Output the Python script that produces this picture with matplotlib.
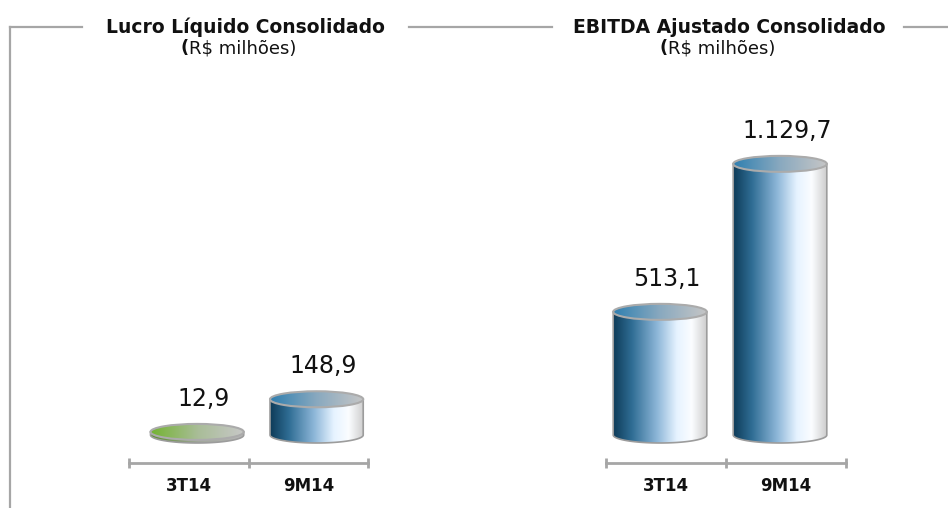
import numpy as np
import matplotlib
matplotlib.use("Agg")
import matplotlib.pyplot as plt
from matplotlib.patches import Ellipse, Polygon
from matplotlib.colors import LinearSegmentedColormap
from matplotlib.lines import Line2D

# data
categories = ["3T14", "9M14"]
lucro_values = [12.9, 148.9]
ebitda_values = [513.1, 1129.7]
lucro_labels = ["12,9", "148,9"]
ebitda_labels = ["513,1", "1.129,7"]
titles = ["Lucro Líquido Consolidado", "EBITDA Ajustado Consolidado"]
unit_text = "R$ milhões)"

W, H, DPI = 948, 508, 100
GRAY = "#a6a6a6"
PX_PER_UNIT = 0.24      # vertical scale shared by both charts
ELL_PX = 8              # half height of the cylinder ellipses, pixels
BAR_W = 0.78

plt.rcParams['font.family'] = ['DejaVu Sans']

blue_body = LinearSegmentedColormap.from_list("blue_body", [
    (0.0, "#0e3b58"), (0.2, "#2f6d94"), (0.47, "#8db6d8"),
    (0.68, "#e6f3ff"), (0.84, "#fbfdff"), (1.0, "#cdcdcd")])
blue_top = LinearSegmentedColormap.from_list("blue_top", [
    (0.0, "#2f7fb0"), (0.5, "#89a9bf"), (1.0, "#c6c6c6")])
green_body = LinearSegmentedColormap.from_list("green_body", [
    (0.0, "#5b8f2b"), (0.5, "#a0a69a"), (1.0, "#b8b8b8")])
green_top = LinearSegmentedColormap.from_list("green_top", [
    (0.0, "#74b332"), (0.5, "#a9bd98"), (1.0, "#c8c8c8")])


def fig_box(x0, x1, y0, y1):
    return [x0 / W, (H - y1) / H, (x1 - x0) / W, (y1 - y0) / H]


def cylinder(ax, cx, h, body_cmap, top_cmap):
    a = BAR_W / 2
    b = ELL_PX / PX_PER_UNIT
    grad = np.linspace(0, 1, 256).reshape(1, -1)
    theta = np.linspace(np.pi, 2 * np.pi, 80)
    verts = [(cx - a, h)] + list(zip(cx + a * np.cos(theta), b * np.sin(theta))) + [(cx + a, h)]
    body = Polygon(verts, closed=True, transform=ax.transData)
    im = ax.imshow(grad, cmap=body_cmap, extent=(cx - a, cx + a, -b, h),
                   aspect='auto', zorder=2, interpolation='bilinear')
    im.set_clip_path(body)
    ax.add_patch(Polygon(verts, closed=True, fill=False, edgecolor="#9c9c9c", lw=1.2, zorder=3))
    top = Ellipse((cx, h), 2 * a, 2 * b, transform=ax.transData)
    im2 = ax.imshow(grad, cmap=top_cmap, extent=(cx - a, cx + a, h - b, h + b),
                    aspect='auto', zorder=4, interpolation='bilinear')
    im2.set_clip_path(top)
    ax.add_patch(Ellipse((cx, h), 2 * a, 2 * b, fill=False, edgecolor="#ababab", lw=1.5, zorder=5))


def panel(ax, values, labels, cmaps, shift):
    ax.set_autoscale_on(False)
    height_px = ax.bbox.height
    bottom = -28 / PX_PER_UNIT
    ax.set_xlim(-0.5, 1.5)
    ax.set_ylim(bottom, bottom + height_px / PX_PER_UNIT)
    x = np.arange(len(values))
    for i, (v, lab) in enumerate(zip(values, labels)):
        cx = x[i] + shift
        cylinder(ax, cx, v, *cmaps[i])
        ax.annotate(lab, (cx, v), xytext=(5, 24), textcoords='offset points',
                    ha='center', va='center', fontsize=17, color="#111111")
    for s in ['left', 'right', 'top']:
        ax.spines[s].set_visible(False)
    ax.spines['bottom'].set_color(GRAY)
    ax.spines['bottom'].set_linewidth(2)
    ax.set_yticks([])
    ax.set_xticks([-0.5, 0.5, 1.5])
    ax.set_xticklabels([])
    ax.tick_params(axis='x', which='major', direction='inout', length=7, width=2, color=GRAY)
    ax.set_xticks(x, minor=True)
    ax.set_xticklabels(categories, minor=True, fontsize=12, fontweight='bold')
    ax.tick_params(axis='x', which='minor', length=0, pad=10, labelcolor="#111111")
    ax.patch.set_alpha(0)


fig = plt.figure(figsize=(W / DPI, H / DPI), dpi=DPI)

ax1 = fig.add_axes(fig_box(129, 368, 100, 463))
ax2 = fig.add_axes(fig_box(606, 846, 100, 463))
panel(ax1, lucro_values, lucro_labels, [(green_body, green_top), (blue_body, blue_top)], 0.07)
panel(ax2, ebitda_values, ebitda_labels, [(blue_body, blue_top), (blue_body, blue_top)], -0.05)

# frame lines around the titles
for xs, ys in [((10, 82), (27, 27)), ((409, 552), (27, 27)), ((904, 948), (27, 27)), ((10, 10), (27, 508))]:
    fig.add_artist(Line2D([x / W for x in xs], [1 - y / H for y in ys], color=GRAY, lw=1.6))

for cx, paren_x, title in [(245.5, 189, titles[0]), (729, 668, titles[1])]:
    fig.text(cx / W, 1 - 33 / H, title, ha='center', va='baseline', fontsize=13.5,
             fontweight='bold', color="#111111")
    fig.text(paren_x / W, 1 - 53 / H, "(", ha='right', va='baseline', fontsize=13,
             fontweight='bold', color="#111111")
    fig.text(paren_x / W, 1 - 53 / H, unit_text, ha='left', va='baseline', fontsize=13,
             color="#111111")

fig.savefig("out.png", dpi=DPI)
